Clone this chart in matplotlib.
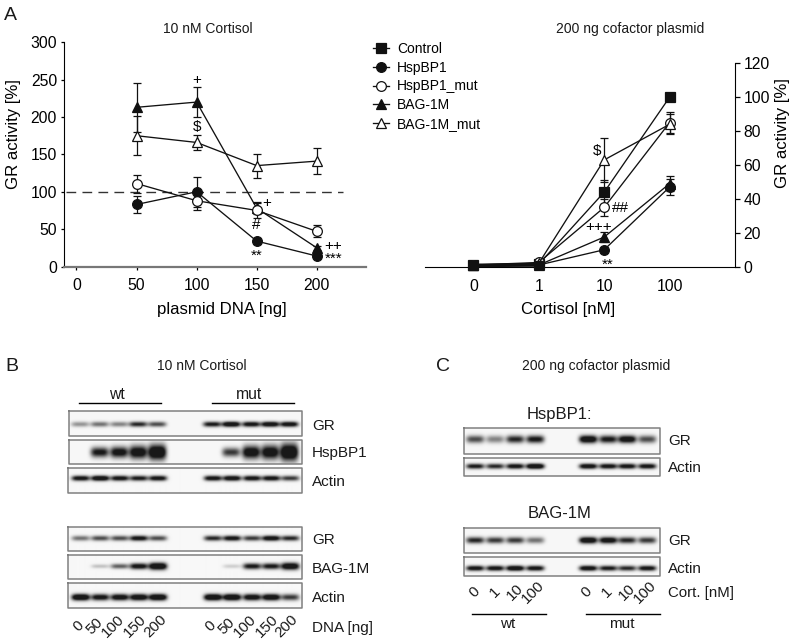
import numpy as np
import matplotlib
matplotlib.use('Agg')
import matplotlib.pyplot as plt

plt.rcParams['font.family'] = ['Liberation Sans', 'DejaVu Sans']

# panel A, left: activity vs plasmid DNA
dna = [50, 100, 150, 200]
dna_ticks = [0, 50, 100, 150, 200]
hsp = [83, 100, 34, 14]
hsp_err = [11, 20, 4, 3]
hsp_mut = [111, 88, 75, 47]
hsp_mut_err = [12, 12, 10, 8]
bag = [213, 220, 78, 25]
bag_err = [33, 20, 8, 3]
bag_mut = [175, 166, 135, 141]
bag_mut_err = [26, 10, 16, 17]

# panel A, right: activity vs cortisol
cort_labels = ['0', '1', '10', '100']
r_control = [1, 1.5, 44, 100]
r_control_err = [0.5, 0.5, 7, 0]
r_hsp = [0.8, 1, 10, 47]
r_hsp_err = [0.3, 0.3, 1, 4.5]
r_hsp_mut = [1, 2.5, 35, 85]
r_hsp_mut_err = [0.5, 0.5, 5, 6]
r_bag = [1, 1, 17.5, 49]
r_bag_err = [0.3, 0.3, 3, 4.5]
r_bag_mut = [1, 2, 63, 84]
r_bag_mut_err = [0.5, 0.5, 13, 6]

# western blot band strengths, wt lanes then mut lanes
b_gr1 = [0.45, 0.55, 0.5, 0.75, 0.65, 0.8, 0.95, 0.85, 0.92, 0.88]
b_hsp = [0.0, 0.8, 0.85, 0.9, 1.0, 0.0, 0.7, 0.9, 0.9, 1.0]
b_actin1 = [0.85, 0.95, 0.85, 0.8, 0.85, 0.85, 0.9, 0.85, 0.85, 0.7]
b_gr2 = [0.55, 0.65, 0.65, 0.85, 0.65, 0.75, 0.85, 0.7, 0.9, 0.75]
b_bag = [0.0, 0.3, 0.6, 0.85, 1.0, 0.0, 0.25, 0.8, 0.8, 0.95]
b_actin2 = [1.0, 0.85, 0.9, 0.95, 1.0, 1.0, 1.0, 0.9, 0.95, 0.7]
c_gr1 = [0.65, 0.5, 0.75, 0.8, 0.95, 0.8, 0.9, 0.65]
c_actin1 = [0.8, 0.75, 0.85, 1.0, 0.9, 0.85, 0.85, 0.85]
c_gr2 = [0.75, 0.7, 0.7, 0.55, 0.95, 0.9, 0.75, 0.7]
c_actin2 = [0.85, 0.85, 0.95, 0.85, 0.9, 0.8, 0.75, 0.85]

W, H = 795, 644
fig = plt.figure(figsize=(W / 100, H / 100), dpi=100)


def px_axes(x0, x1, y_top, y_bot):
    return fig.add_axes([x0 / W, 1 - y_bot / H, (x1 - x0) / W, (y_bot - y_top) / H])


def draw_series(ax, x, y, err, marker, filled, label):
    ax.errorbar(x, y, yerr=err, fmt='none', ecolor='#111111', elinewidth=0.9,
                capsize=3, capthick=0.9, clip_on=False, zorder=3)
    line, = ax.plot(x, y, color='#111111', lw=0.95, marker=marker, ms=7.0,
                    mfc='#111111' if filled else 'white', mec='#111111', mew=0.9,
                    label=label, clip_on=False, zorder=4)
    return line


# left plot
ax1 = px_axes(64, 366, 42.3, 266.5)
ax1.axhline(100, xmin=0.005, xmax=0.925, color='#333333', lw=1.0, dashes=(7, 4.5))
draw_series(ax1, dna, hsp, hsp_err, 'o', True, 'HspBP1')
draw_series(ax1, dna, bag, bag_err, '^', True, 'BAG-1M')
draw_series(ax1, dna, bag_mut, bag_mut_err, '^', False, 'BAG-1M_mut')
draw_series(ax1, dna, hsp_mut, hsp_mut_err, 'o', False, 'HspBP1_mut')
ax1.set_xlim(-10.4, 241)
ax1.set_ylim(0, 300)
ax1.set_xticks(dna_ticks)
ax1.set_yticks([0, 50, 100, 150, 200, 250, 300])
ax1.set_xlabel('plasmid DNA [ng]', fontsize=12.1)
ax1.set_ylabel('GR activity [%]', fontsize=12.1)
ax1.xaxis.set_label_coords(0.523, -0.16)
ax1.yaxis.set_label_coords(-0.142, 0.59)
ax1.spines['top'].set_visible(False)
ax1.spines['right'].set_visible(False)
ax1.spines['bottom'].set_color('#777777')
ax1.spines['bottom'].set_linewidth(1.6)
ax1.tick_params(labelsize=11.3, width=0.9, length=2.5, pad=2.5)
ax1.tick_params(axis='x', pad=6)

for x, y, s in [(100, 250, '+'), (100, 187, '$'), (158, 85, '+'), (150, 55, '#'),
                (150, 14, '**'), (214, 28, '++'), (214, 10, '***')]:
    ax1.text(x, y, s, fontsize=11, ha='center', va='center', zorder=6)

# right plot
ax2 = px_axes(425, 735, 63.3, 266.7)
pos = np.arange(len(cort_labels))
h_control = draw_series(ax2, pos, r_control, r_control_err, 's', True, 'Control')
h_hsp = draw_series(ax2, pos, r_hsp, r_hsp_err, 'o', True, 'HspBP1')
h_hsp_mut = draw_series(ax2, pos, r_hsp_mut, r_hsp_mut_err, 'o', False, 'HspBP1_mut')
h_bag = draw_series(ax2, pos, r_bag, r_bag_err, '^', True, 'BAG-1M')
h_bag_mut = draw_series(ax2, pos, r_bag_mut, r_bag_mut_err, '^', False, 'BAG-1M_mut')
# the low points pile up into one thick black segment
ax2.plot(pos[:2], r_hsp[:2], color='#111111', lw=2.6, marker='s', ms=6.4,
         mfc='#111111', mec='#111111', clip_on=False, zorder=5)
ax2.set_xlim(-0.74, 4.0)
ax2.set_ylim(0, 120)
ax2.set_xticks(pos)
ax2.set_xticklabels(cort_labels)
ax2.set_yticks([0, 20, 40, 60, 80, 100, 120])
ax2.yaxis.tick_right()
ax2.yaxis.set_label_position('right')
ax2.set_xlabel('Cortisol [nM]', fontsize=12.1)
ax2.set_ylabel('GR activity [%]', fontsize=12.1)
ax2.xaxis.set_label_coords(0.461, -0.172)
ax2.yaxis.set_label_coords(1.129, 0.657)
ax2.spines['top'].set_visible(False)
ax2.spines['left'].set_visible(False)
ax2.tick_params(labelsize=11.3, width=0.9, length=3.5, pad=2.5)
ax2.tick_params(axis='x', length=0, pad=8.5)

for x, y, s in [(1.89, 68, '$'), (2.25, 34.5, '##'), (1.92, 23.6, '+++'), (2.06, 1, '**')]:
    ax2.text(x, y, s, fontsize=11, ha='center', va='center', zorder=6)

handles = [h_control, h_hsp, h_hsp_mut, h_bag, h_bag_mut]
fig.legend(handles, [h.get_label() for h in handles], loc='upper left',
           bbox_to_anchor=(373 / W, 1 - 42 / H), frameon=False, fontsize=10,
           labelspacing=0.34, handlelength=1.15, handletextpad=0.58,
           borderaxespad=0, borderpad=0)

# overlay in pixel coordinates for blots and captions
ov = fig.add_axes([0, 0, 1, 1], zorder=-1)


def blot(x0, x1, y0, y1, lanes, levels, band_y, band_h, band_w=9.0):
    xs = np.arange(x0, x1, 0.5)
    ys = np.arange(y0, y1, 0.5)
    gx, gy = np.meshgrid(xs, ys)
    hs = band_h if np.iterable(band_h) else [band_h] * len(levels)
    dark = np.zeros_like(gx)
    for cx, lev, bh in zip(lanes, levels, hs):
        if lev > 0:
            dark += 1.5 * lev ** 1.5 * np.exp(-((gx - cx) / band_w) ** 4) * np.exp(-((gy - band_y) / bh) ** 2)
    img = 0.97 - 0.87 * np.clip(dark, 0, 1)
    ov.imshow(img, extent=(x0, x1, y1, y0), cmap='gray', vmin=0, vmax=1,
              aspect='auto', interpolation='bilinear')
    ov.plot([x0, x1, x1, x0, x0], [y0, y0, y1, y1, y0], color='#808080', lw=1.1)


lanes_b = [80, 99.5, 119, 138, 157, 212, 231, 251, 270, 289]
lanes_c = [475, 495, 515, 535, 588, 608, 627, 647]
blot(69, 302, 411, 436, lanes_b, b_gr1, 424, 2.6)
blot(69, 302, 440, 464, lanes_b, b_hsp, 452, [0, 5, 5.5, 6.5, 7.5, 0, 4.5, 6.5, 7, 8.5])
blot(67.5, 302, 468, 493, lanes_b, b_actin1, 478, 2.6)
blot(67.5, 302, 527, 551, lanes_b, b_gr2, 538, 2.6)
blot(67.5, 302, 555, 579, lanes_b, b_bag, 566, [0, 2, 2.5, 3, 3.5, 0, 2, 3, 3, 3.5])
blot(67.5, 302, 583, 608, lanes_b, b_actin2, 597, 3.2)
blot(464, 660, 428, 454, lanes_c, c_gr1, 439, 3.8)
blot(464, 660, 458, 476, lanes_c, c_actin1, 466, 2.6)
blot(464, 660, 528, 553, lanes_c, c_gr2, 540, 3.2)
blot(464, 660, 557, 576, lanes_c, c_actin2, 568, 2.6)

for x0, x1, y in [(79, 160.5, 403), (212, 293.5, 403), (472, 546, 614), (586, 660, 614)]:
    ov.plot([x0, x1], [y, y], color='black', lw=1.0)


def cap(x, y, s, size=11, ha='left', **kw):
    ov.text(x, y, s, fontsize=size, ha=ha, va='center', color='#1a1a1a', **kw)


cap(4, 15, 'A', 14)
cap(5, 366, 'B', 14)
cap(436, 366, 'C', 14)
cap(208, 29, '10 nM Cortisol', 10, 'center')
cap(630, 29, '200 ng cofactor plasmid', 10, 'center')
cap(202, 366, '10 nM Cortisol', 10, 'center')
cap(596, 366, '200 ng cofactor plasmid', 10, 'center')
cap(117, 394, 'wt', 11.3, 'center')
cap(249, 394, 'mut', 11.3, 'center')
for y, s in [(426, 'GR'), (453, 'HspBP1'), (482, 'Actin'), (540, 'GR'), (569, 'BAG-1M'), (598, 'Actin')]:
    cap(312, y, s, 11)
cap(312, 628, 'DNA [ng]', 11)
for x, s in zip([79, 95, 113, 135, 155, 211, 227, 245, 267, 286], ['0', '50', '100', '150', '200'] * 2):
    cap(x, 626, s, 11, 'center', rotation=45)
cap(559, 414, 'HspBP1:', 12, 'center')
cap(560, 514, 'BAG-1M', 12, 'center')
for y, s in [(441, 'GR'), (467.5, 'Actin'), (541, 'GR'), (569, 'Actin')]:
    cap(668, y, s, 11)
cap(668, 593, 'Cort. [nM]', 10.8)
for x, s in zip([475, 495, 515, 533, 587, 607, 627, 645], cort_labels * 2):
    cap(x, 592, s, 11, 'center', rotation=45)
cap(508, 623.5, 'wt', 11, 'center')
cap(622, 623.5, 'mut', 11, 'center')

ov.set_xlim(0, W)
ov.set_ylim(H, 0)
ov.axis('off')

fig.savefig('out.png', dpi=100)
